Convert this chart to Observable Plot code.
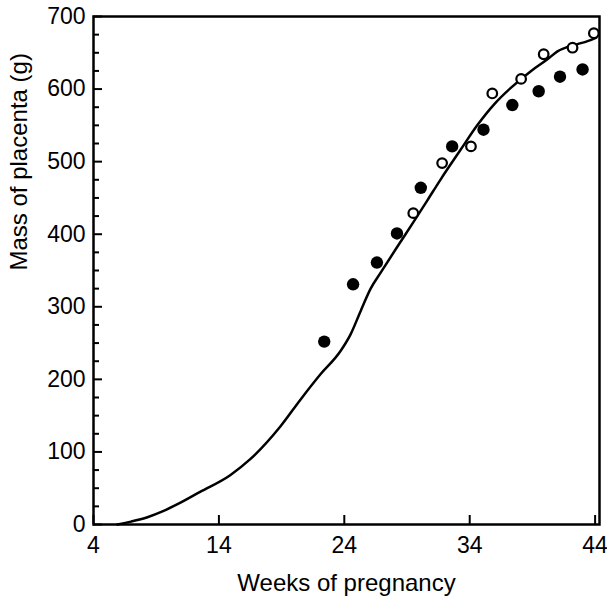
<!DOCTYPE html>
<html>
<head>
<meta charset="utf-8">
<script src="https://cdn.jsdelivr.net/npm/d3@7"></script>
<script src="https://cdn.jsdelivr.net/npm/@observablehq/plot@0.6"></script>
<style>
  html, body { margin: 0; padding: 0; background: white; }
</style>
</head>
<body>
<div id="chart"></div>
<script>
// Fitted growth curve (weeks, grams)
const curveWeeks = [5.9, 7, 8.3, 9.5, 10.7, 12.5, 14.9, 16.5, 18.9, 20.5, 22.1, 23.7, 24.5, 25.3, 26.1, 26.9, 28.2, 29.6, 30.6, 31.7, 33.3, 34.6, 36.0, 37.3, 38.9, 40.2, 41.0, 41.8, 42.6, 43.4, 44.1];
const curveMass  = [0, 4, 10, 18, 28, 45, 68, 90, 135, 172, 207, 239, 262, 294, 325, 347, 382, 419, 446, 476, 517, 550, 580, 602, 625, 641, 652, 658, 662, 666, 671];

// Filled circles
const filledWeeks = [22.4, 24.7, 26.6, 28.2, 30.1, 32.6, 35.1, 37.4, 39.5, 41.2, 43.0];
const filledMass  = [252, 331, 361, 401, 464, 521, 544, 578, 597, 617, 627];

// Open circles
const openWeeks = [29.5, 31.8, 34.1, 35.8, 38.1, 39.9, 42.2, 43.9];
const openMass  = [429, 498, 521, 594, 614, 648, 657, 677];

// Ticks
const xTicks = [4, 14, 24, 34, 44];
const yTicks = [0, 100, 200, 300, 400, 500, 600, 700];
const yMinorTicks = [25, 50, 75, 125, 150, 175, 225, 250, 275, 325, 350, 375, 425, 450, 475, 525, 550, 575, 625, 650, 675];

const curve = curveWeeks.map((w, i) => ({week: w, mass: curveMass[i]}));
const filled = filledWeeks.map((w, i) => ({week: w, mass: filledMass[i]}));
const open = openWeeks.map((w, i) => ({week: w, mass: openMass[i]}));

const chart = Plot.plot({
  width: 607,
  height: 596,
  marginLeft: 93,
  marginRight: 8,
  marginTop: 16,
  marginBottom: 72,
  x: {domain: [4, 44.35]},
  y: {domain: [0, 700]},
  style: {fontFamily: "'Liberation Sans', Arial, sans-serif", fontSize: "23px", color: "black", background: "white"},
  marks: [
    Plot.axisX({ticks: xTicks, tickSize: 0, tickPadding: 12, fontSize: 23,
      label: null}),
    Plot.axisX({ticks: xTicks, tickSize: -9, text: null, label: null, strokeWidth: 2}),
    Plot.axisY({ticks: yTicks, tickSize: 0, tickPadding: 8, fontSize: 23, label: null}),
    Plot.axisY({ticks: yTicks, tickSize: -9, text: null, label: null, strokeWidth: 2}),
    Plot.axisY({ticks: yMinorTicks, tickSize: -6, text: null, label: null, strokeWidth: 2}),
    Plot.text(["Weeks of pregnancy"], {frameAnchor: "bottom", dy: 66, lineAnchor: "bottom", fontSize: 24, text: d => d}),
    Plot.text(["Mass of placenta (g)"], {frameAnchor: "left", dx: -84, rotate: -90, lineAnchor: "top", fontSize: 24, text: d => d}),
    Plot.frame({stroke: "black", strokeWidth: 2.5}),
    Plot.line(curve, {x: "week", y: "mass", curve: "monotone-x", stroke: "black", strokeWidth: 2.5}),
    Plot.dot(filled, {x: "week", y: "mass", r: 6.2, fill: "black", stroke: "none"}),
    Plot.dot(open, {x: "week", y: "mass", r: 4.8, fill: "white", stroke: "black", strokeWidth: 2.2})
  ]
});
document.getElementById("chart").appendChild(chart);
</script>
</body>
</html>
